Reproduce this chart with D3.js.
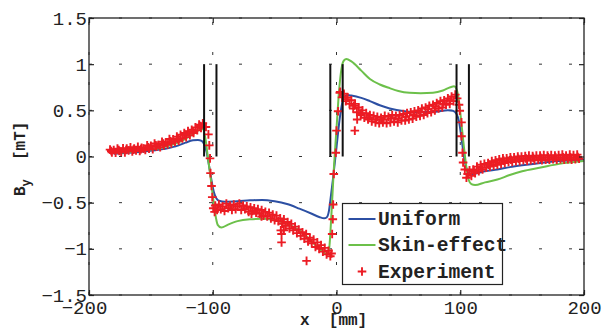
<!DOCTYPE html>
<html>
<head>
<meta charset="utf-8">
<script src="https://cdn.jsdelivr.net/npm/d3@7"></script>
<style>
  body { margin: 0; background: #fff; }
  svg { display: block; }
  svg text { font-family: "Liberation Mono", "Courier New", Cousine, Courier, "Nimbus Mono PS", FreeMono, monospace !important; }
</style>
</head>
<body>
<svg id="chart" width="602" height="329"></svg>
<script>
// ---- data ----
const xTicks = [-200, -100, 0, 100, 200];
const yTicks = [-1.5, -1, -0.5, 0, 0.5, 1, 1.5];
const xTickLabels = ['-200', '-100', '0', '100', '200'];
const yTickLabels = ['-1.5', '-1', '-0.5', '0', '0.5', '1', '1.5'];

// conductor edges drawn as black bars from 0 to 1 mT
const conductorEdges = [-107, -97, -5, 5, 97, 107];
const conductorSpan = [0, 1];

const uniformX = [-180, -160, -140, -130, -122, -116, -112, -109, -107, -105, -103, -101, -99, -97, -95,
  -90, -80, -70, -60, -50, -40, -30, -20, -14, -10, -8, -6, -5, -3, 0, 3, 5, 7, 9, 12, 20, 27, 35, 43,
  55, 67, 80, 90, 94, 97, 99, 101, 103, 105, 107, 110, 115, 120, 130, 140, 150, 165, 180, 200];
const uniformY = [0.03, 0.05, 0.08, 0.11, 0.15, 0.175, 0.18, 0.17, 0.135, 0.05, -0.1, -0.26, -0.39, -0.455, -0.48,
  -0.49, -0.485, -0.475, -0.47, -0.485, -0.515, -0.565, -0.62, -0.655, -0.67, -0.66, -0.58, -0.48, -0.26, 0.1, 0.45, 0.6, 0.655, 0.665, 0.66, 0.635, 0.6, 0.555, 0.52,
  0.49, 0.48, 0.485, 0.5, 0.495, 0.46, 0.38, 0.2, 0.0, -0.13, -0.185, -0.19, -0.175, -0.16, -0.14, -0.115, -0.095, -0.07, -0.05, -0.035];

const skinX = [-180, -160, -140, -125, -115, -110, -108, -106, -104, -102, -100, -98, -96, -93, -88,
  -80, -70, -60, -50, -40, -30, -20, -12, -8, -6, -4, -2, 0, 2, 4, 6, 8, 12, 20, 27, 35, 43, 50, 59,
  68, 78, 86, 92, 95, 97, 99, 101, 103, 105, 107, 109, 112, 120, 130, 140, 150, 165, 180, 200];
const skinY = [0.04, 0.06, 0.1, 0.17, 0.25, 0.295, 0.3, 0.2, 0.0, -0.2, -0.42, -0.62, -0.74, -0.77, -0.74,
  -0.7, -0.68, -0.675, -0.69, -0.73, -0.8, -0.92, -1.02, -1.06, -1.0, -0.6, -0.1, 0.3, 0.7, 0.95, 1.04, 1.055, 1.03, 0.93, 0.84, 0.78, 0.74, 0.71, 0.69,
  0.685, 0.69, 0.715, 0.75, 0.76, 0.73, 0.6, 0.35, 0.1, -0.12, -0.26, -0.3, -0.31, -0.28, -0.25, -0.2, -0.16, -0.12, -0.08, -0.05];

// measured points, grouped by stretch of the scan
const expLeft = [[-183, .075], [-181.5, .045], [-180, .07], [-178.5, .04], [-177, .085], [-175.5, .06], [-174, .05],
  [-172.5, .09], [-171, .045], [-169.5, .085], [-168, .065], [-166.5, .1], [-165, .055], [-163.5, .085], [-162, .065],
  [-160.5, .105], [-159, .06], [-157.5, .095], [-156, .085], [-154.5, .07], [-153, .12], [-151.5, .085], [-150, .115],
  [-148.5, .08], [-147, .14], [-145.5, .105], [-144, .125], [-142.5, .1], [-141, .16], [-139.5, .12], [-138, .15],
  [-136.5, .13], [-135, .19], [-133.5, .14], [-132, .185], [-130.5, .16], [-129, .215], [-127.5, .17], [-126, .235],
  [-124.5, .195], [-123, .255], [-121.5, .21], [-120, .275], [-118.5, .23], [-117, .29], [-115.5, .255], [-114, .315],
  [-112.5, .285], [-111, .345], [-109.5, .31], [-108, .36],
  [-182, .06], [-176, .07], [-170, .07], [-164, .075], [-158, .08], [-152, .1], [-146, .12], [-140, .14], [-134, .165],
  [-128, .19], [-122, .235], [-116, .27], [-110, .33]];
const expDropLeft = [[-105.5, .32], [-103.5, .24], [-102.8, .12], [-102.2, -.02], [-101.8, -.18], [-101, -.32],
  [-100.4, -.44], [-99.6, -.56], [-98.5, -.6]];
const expLow = [[-98, -.53], [-96.5, -.58], [-95, -.52], [-93.5, -.57], [-92, -.54], [-90.5, -.59], [-89, -.51],
  [-87.5, -.56], [-86, -.53], [-84.5, -.58], [-83, -.52], [-81.5, -.57], [-80, -.54], [-78.5, -.51], [-77, -.58],
  [-75.5, -.53], [-74, -.57], [-72.5, -.54], [-71, -.6], [-69.5, -.55], [-68, -.59], [-66.5, -.56], [-65, -.61],
  [-63.5, -.57], [-62, -.62], [-60.5, -.58], [-59, -.64], [-57.5, -.6], [-56, -.65], [-54.5, -.61], [-53, -.67],
  [-51.5, -.63], [-50, -.69], [-48.5, -.64], [-47, -.7], [-45.5, -.67], [-44, -.73], [-42.5, -.68], [-41, -.75],
  [-39.5, -.71], [-38, -.78], [-36.5, -.73], [-35, -.8], [-33.5, -.76], [-32, -.83], [-30.5, -.79], [-29, -.86],
  [-27.5, -.82], [-26, -.89], [-24.5, -.84], [-23, -.92], [-21.5, -.88], [-20, -.94], [-18.5, -.9], [-17, -.98],
  [-15.5, -.93], [-14, -1.0], [-12.5, -.96], [-11, -1.03], [-9.5, -.99], [-8, -1.06], [-6.5, -1.02], [-5, -1.08],
  [-4, -1.05],
  [-68.7, -.62], [-60.6, -.65], [-45, -.8], [-42.5, -.8], [-44.4, -.84], [-44.4, -.93], [-24.2, -1.13]];
const expDropMid = [[-3.5, -.84], [-3, -.68], [-2.7, -.52], [-2.2, -.19], [-.6, .04], [0, .28], [1.3, .49], [2.7, .69],
  [14.8, .28], [16.7, .4]];
const expMid = [[3, .7], [4.5, .64], [6, .68], [7.5, .6], [9, .64], [10.5, .57], [12, .61], [13.5, .52], [15, .57],
  [16.5, .48], [18, .53], [19.5, .45], [21, .5], [22.5, .42], [24, .47], [25.5, .4], [27, .45], [28.5, .38], [30, .44],
  [31.5, .37], [33, .43], [34.5, .36], [36, .42], [37.5, .37], [39, .44], [40.5, .36], [42, .43], [43.5, .37], [45, .45],
  [46.5, .38], [48, .44], [49.5, .37], [51, .45], [52.5, .39], [54, .46], [55.5, .39], [57, .47], [58.5, .4], [60, .48],
  [61.5, .41], [63, .49], [64.5, .43], [66, .5], [67.5, .44], [69, .52], [70.5, .45], [72, .53], [73.5, .47], [75, .55],
  [76.5, .48], [78, .56], [79.5, .5], [81, .58], [82.5, .52], [84, .6], [85.5, .53], [87, .61], [88.5, .56], [90, .63],
  [91.5, .57], [93, .65], [94.5, .6], [96, .67], [97.5, .63],
  [8, .62], [14, .55], [20, .47], [26, .42], [32, .4], [38, .4], [44, .41], [50, .41], [56, .43], [62, .45], [68, .48],
  [74, .51], [80, .54], [86, .57], [92, .61]];
const expDropRight = [[99, .56], [99.6, .495], [101, .37], [101, .22], [101.8, .04], [102.3, -.065], [103.7, -.14], [105, -.23]];
const expRight = [[106, -.19], [107.5, -.15], [109, -.21], [110.5, -.14], [112, -.18], [113.5, -.11], [115, -.16],
  [116.5, -.09], [118, -.14], [119.5, -.08], [121, -.12], [122.5, -.07], [124, -.11], [125.5, -.05], [127, -.1],
  [128.5, -.04], [130, -.09], [131.5, -.03], [133, -.08], [134.5, -.02], [136, -.07], [137.5, -.02], [139, -.06],
  [140.5, -.01], [142, -.06], [143.5, -.01], [145, -.05], [146.5, 0], [148, -.05], [149.5, 0], [151, -.04],
  [152.5, .005], [154, -.045], [155.5, .01], [157, -.04], [158.5, .005], [160, -.04], [161.5, .01], [163, -.035],
  [164.5, .01], [166, -.04], [167.5, .015], [169, -.035], [170.5, .01], [172, -.035], [173.5, .015], [175, -.03],
  [176.5, .01], [178, -.035], [179.5, .015], [181, -.03], [182.5, .02], [184, -.035], [185.5, .01], [187, -.03],
  [188.5, .02], [190, -.035], [191.5, .015], [193, -.03], [194.5, .02], [196, -.025],
  [111, -.16], [117, -.12], [123, -.09], [129, -.065], [135, -.045], [141, -.035], [147, -.025], [153, -.02],
  [159, -.015], [165, -.015], [171, -.01], [177, -.01], [183, -.01], [189, -.01], [195, -.005]];

const seriesNames = ['Uniform', 'Skin-effect', 'Experiment'];
const colors = { uniform: '#2c4fa3', skin: '#6cc04a', exp: '#ec1c24' };

// ---- layout ----
const W = 602, H = 329;
const margin = { top: 18, right: 18, bottom: 34, left: 89 };
const width = W - margin.left - margin.right;
const height = H - margin.top - margin.bottom;

const svg = d3.select('#chart');
const g = svg.append('g').attr('transform', `translate(${margin.left},${margin.top})`);

const x = d3.scaleLinear().domain([-200, 200]).range([0, width]);
const y = d3.scaleLinear().domain([-1.5, 1.5]).range([height, 0]);

const minus = s => s.replace('-', '\u2212');

// dotted grid (MATLAB style sparse dots)
g.append('g').selectAll('line').data(yTicks).enter().append('line')
  .attr('x1', 0).attr('x2', width)
  .attr('y1', d => y(d)).attr('y2', d => y(d))
  .attr('stroke', '#333').attr('stroke-width', 1)
  .attr('stroke-dasharray', '3,27');
g.append('g').selectAll('line').data(xTicks).enter().append('line')
  .attr('x1', d => x(d)).attr('x2', d => x(d))
  .attr('y1', height).attr('y2', 0)
  .attr('stroke', '#333').attr('stroke-width', 1)
  .attr('stroke-dasharray', '3,27');

// model curves
const line = d3.line().x(d => x(d[0])).y(d => y(d[1])).curve(d3.curveMonotoneX);
g.append('path').datum(d3.zip(uniformX, uniformY))
  .attr('d', line).attr('fill', 'none')
  .attr('stroke', colors.uniform).attr('stroke-width', 2);
g.append('path').datum(d3.zip(skinX, skinY))
  .attr('d', line).attr('fill', 'none')
  .attr('stroke', colors.skin).attr('stroke-width', 2);

// experiment markers
const expAll = [].concat(expLeft, expDropLeft, expLow, expDropMid, expMid, expDropRight, expRight);
const plus = 4.3;
const plusPath = `M${-plus},0H${plus}M0,${-plus}V${plus}`;
g.append('g').selectAll('path').data(expAll).enter().append('path')
  .attr('transform', d => `translate(${x(d[0])},${y(d[1])})`)
  .attr('d', plusPath)
  .attr('stroke', colors.exp).attr('stroke-width', 1.9).attr('fill', 'none');

// conductor edges
g.append('g').selectAll('line').data(conductorEdges).enter().append('line')
  .attr('x1', d => x(d)).attr('x2', d => x(d))
  .attr('y1', y(conductorSpan[0])).attr('y2', y(conductorSpan[1]))
  .attr('stroke', '#111').attr('stroke-width', 2);

// axes
const xAxis = g.append('g').attr('transform', `translate(0,${height})`)
  .call(d3.axisBottom(x).tickValues(xTicks).tickSize(-5).tickSizeOuter(0).tickPadding(6)
    .tickFormat((d, i) => minus(xTickLabels[i])));
g.append('g')
  .call(d3.axisTop(x).tickValues(xTicks).tickSize(-5).tickSizeOuter(0).tickFormat(''));
g.append('g')
  .call(d3.axisLeft(y).tickValues(yTicks).tickSize(-5).tickSizeOuter(0).tickPadding(2)
    .tickFormat((d, i) => minus(yTickLabels[i])));
g.append('g').attr('transform', `translate(${width},0)`)
  .call(d3.axisRight(y).tickValues(yTicks).tickSize(-5).tickSizeOuter(0).tickFormat(''));

g.selectAll('.domain').remove();
g.selectAll('.tick line').attr('stroke', '#222').attr('stroke-width', 1.2);
g.selectAll('.tick text').attr('font-size', 19).attr('fill', '#222');
xAxis.selectAll('.tick text').attr('dx', (d) => d < 0 ? -5 : 0);

g.append('rect').attr('x', 0).attr('y', 0).attr('width', width).attr('height', height)
  .attr('fill', 'none').attr('stroke', '#222').attr('stroke-width', 1.3);

// axis labels
svg.append('text')
  .attr('x', 300).attr('y', 325)
  .attr('font-size', 16).attr('font-weight', 'bold').attr('fill', '#222')
  .attr('xml:space', 'preserve')
  .text('x  [mm]');

const yl = svg.append('text')
  .attr('transform', 'translate(25,196) rotate(-90)')
  .attr('font-size', 16).attr('font-weight', 'bold').attr('fill', '#222')
  .attr('xml:space', 'preserve');
yl.append('tspan').text('B');
yl.append('tspan').attr('dy', 5).attr('font-size', 12).text('y');
yl.append('tspan').attr('dy', -5).text('  [mT]');

// legend
const leg = svg.append('g').attr('transform', 'translate(342.5,203.5)');
leg.append('rect').attr('width', 160).attr('height', 81)
  .attr('fill', '#fff').attr('stroke', '#222').attr('stroke-width', 1.2);
const legRows = [
  { name: seriesNames[0], color: colors.uniform, kind: 'line' },
  { name: seriesNames[1], color: colors.skin, kind: 'line' },
  { name: seriesNames[2], color: colors.exp, kind: 'plus' }
];
const rowY = [15.5, 41.5, 68];
legRows.forEach((r, i) => {
  const row = leg.append('g').attr('transform', `translate(0,${rowY[i]})`);
  if (r.kind === 'line') {
    row.append('line').attr('x1', 6).attr('x2', 33).attr('y1', 0).attr('y2', 0)
      .attr('stroke', r.color).attr('stroke-width', 2);
  } else {
    row.append('path').attr('transform', 'translate(19.5,0)').attr('d', plusPath)
      .attr('stroke', r.color).attr('stroke-width', 1.9).attr('fill', 'none');
  }
  row.append('text').attr('x', 35.5).attr('y', 6)
    .attr('font-size', 19.6).attr('font-weight', 'bold').attr('fill', '#222')
    .text(r.name);
});
</script>
</body>
</html>
